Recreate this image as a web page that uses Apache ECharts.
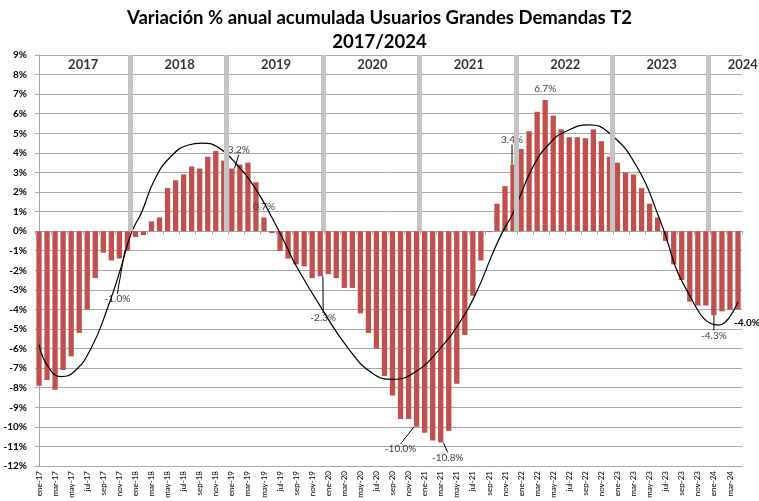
<!DOCTYPE html>
<html>
<head>
<meta charset="utf-8">
<script src="https://cdn.jsdelivr.net/npm/echarts@6/dist/echarts.min.js"></script>
<style>
  html, body { margin: 0; padding: 0; background: #fff; }
  #chart { width: 759px; height: 501px; }
</style>
</head>
<body>
<div id="chart"></div>
<script>
// meses ene-17 .. abr-24
var meses = [];
var mesNombres = ['ene', 'feb', 'mar', 'abr', 'may', 'jun', 'jul', 'ago', 'sep', 'oct', 'nov', 'dic'];
for (var a = 17; a <= 24; a++) {
	for (var m = 0; m < 12; m++) {
		if (a == 24 && m > 3) break;
		meses.push(mesNombres[m] + '-' + a);
	}
}

// variación % anual acumulada
var v2017 = [-7.9, -7.6, -8.1, -7.1, -6.4, -5.2, -4.0, -2.4, -1.1, -1.5, -1.4, -1.0];
var v2018 = [-0.3, -0.2, 0.5, 0.7, 2.2, 2.6, 2.9, 3.3, 3.2, 3.8, 4.1, 3.6];
var v2019 = [3.2, 3.4, 3.5, 2.5, 0.7, -0.1, -1.0, -1.4, -1.7, -1.8, -2.4, -2.3];
var v2020 = [-2.2, -2.4, -2.9, -2.9, -4.2, -5.2, -6.0, -7.4, -8.4, -9.6, -9.6, -10.0];
var v2021 = [-10.3, -10.7, -10.8, -10.2, -7.8, -5.3, -3.3, -1.5, -0.05, 1.4, 2.3, 3.4];
var v2022 = [4.2, 5.1, 6.1, 6.7, 5.9, 5.2, 4.8, 4.8, 4.75, 5.2, 4.6, 3.8];
var v2023 = [3.5, 3.0, 2.9, 2.2, 1.4, 0.7, -0.5, -1.7, -2.5, -3.6, -3.8, -3.8];
var v2024 = [-4.3, -4.1, -4.0, -4.0];
var valores = [].concat(v2017, v2018, v2019, v2020, v2021, v2022, v2023, v2024);

// línea de tendencia (puntos leídos: índice de mes, valor)
var tendX = [0, 1.1, 2.75, 4.4, 6.5, 8.6, 10.25, 11.5, 12.75, 14.4, 16.5, 18.6, 20.25, 22.3, 24.4, 26.9, 29, 30.9, 31.9, 35.25, 38.6, 41.5, 44, 46.9, 49.8, 52.3, 54.4, 56.5, 57.75, 59, 61.5, 63.6, 65.6, 68.4, 71, 74.4, 77.3, 80.6, 84.6, 87];
var tendY = [-5.8, -6.9, -7.43, -7.17, -5.97, -3.85, -1.8, -0.08, 0.94, 2.64, 3.85, 4.4, 4.5, 4.28, 3.5, 2.2, 0.68, -0.85, -1.7, -4.0, -6.05, -7.26, -7.57, -7.17, -6.05, -4.7, -3.16, -1.1, 0, 0.93, 3.3, 4.5, 5.1, 5.43, 5.0, 3.3, 0.56, -3.0, -4.8, -3.6];

var anios = ['2017', '2018', '2019', '2020', '2021', '2022', '2023', '2024'];
var etiquetados = [11, 24, 28, 35, 47, 50, 59, 63, 84, 87]; // meses con etiqueta

// desplazamiento de etiquetas respecto al extremo de la barra
var labelOffsets = {
	11: [-10, 48], 24: [7, -19], 28: [0, -11], 35: [3, 42], 47: [-16, 22],
	50: [7, 15], 59: [-1, -25], 63: [0, -11], 84: [0, 20], 87: [9, 13]
};
// fin de la línea guía respecto al extremo de la barra
var lineaFin = {
	11: [-9, 39], 24: [5, -11], 35: [3, 32], 47: [-12, 13], 50: [4, 7], 59: [0, -15], 84: [0, 10]
};

var fuente = 'Lato, "Liberation Sans", sans-serif';

var barData = valores.map(function(v, i) {
	var item = { value: v };
	if (etiquetados.indexOf(i) >= 0) {
		item.label = {
			show: true,
			formatter: v.toFixed(1) + '%',
			fontSize: 10,
			fontFamily: fuente,
			color: i == 87 ? '#000' : '#404040',
			fontWeight: i == 87 ? 'bold' : 'normal'
		};
		if (!lineaFin[i]) item.labelLine = { show: false };
	}
	return item;
});

// separadores de año y posición de las etiquetas de año
var bandas = [], anioPos = [];
meses.forEach(function(m, i) {
	if (m.indexOf('ene') == 0 && i > 0) {
		bandas.push([{ coord: [i - 0.65, 0] }, { coord: [i - 0.65, 9] }]);
	}
});
anios.forEach(function(a, k) {
	var x = k < anios.length - 1 ? k * 12 + 5.5 : 87.6;
	anioPos.push({ value: [x, 8.5], name: a });
});

var chart = echarts.init(document.getElementById('chart'));
chart.setOption({
	animation: false,
	title: {
		text: 'Variación % anual acumulada Usuarios Grandes Demandas T2\n2017/2024',
		left: 'center',
		top: 1,
		textStyle: {
			fontSize: 18.5,
			fontWeight: 'bold',
			fontFamily: fuente,
			color: '#000',
			lineHeight: 24
		}
	},
	grid: {
		left: 35,
		right: 17,
		top: 55,
		bottom: 35
	},
	xAxis: [{
		type: 'category',
		data: meses,
		position: 'bottom',
		axisLine: {
			onZero: false,
			lineStyle: { color: '#a6a6a6' }
		},
		axisTick: { show: false },
		axisLabel: {
			interval: 1,
			rotate: 90,
			fontSize: 8,
			margin: 5,
			color: '#000',
			fontFamily: fuente
		}
	}, {
		type: 'category',
		data: meses,
		position: 'bottom',
		axisLine: {
			onZero: true,
			lineStyle: { color: '#a6a6a6' }
		},
		axisTick: {
			show: true,
			interval: 1,
			length: 3,
			lineStyle: { color: '#a6a6a6' }
		},
		axisLabel: { show: false }
	}, {
		type: 'value',
		min: -0.5,
		max: 87.5,
		show: false
	}],
	yAxis: {
		type: 'value',
		min: -12,
		max: 9,
		interval: 1,
		axisLine: {
			show: true,
			lineStyle: { color: '#a6a6a6' }
		},
		axisTick: { show: false },
		splitLine: {
			lineStyle: { color: '#a6a6a6' }
		},
		axisLabel: {
			formatter: '{value}%',
			fontSize: 10,
			fontWeight: 'bold',
			color: '#000',
			margin: 8,
			fontFamily: fuente
		}
	},
	series: [{
		name: 'años',
		type: 'scatter',
		xAxisIndex: 2,
		symbolSize: 0,
		clip: false,
		z: 1,
		silent: true,
		data: anioPos,
		label: {
			show: true,
			position: 'inside',
			formatter: '{b}',
			fontSize: 13,
			fontWeight: 'bold',
			color: '#000',
			fontFamily: fuente
		},
		markLine: {
			silent: true,
			symbol: ['none', 'none'],
			label: { show: false },
			lineStyle: { type: 'solid', width: 5, color: '#c4c4c4' },
			data: bandas
		}
	}, {
		name: 'Variación',
		type: 'bar',
		xAxisIndex: 0,
		barCategoryGap: '34%',
		z: 2,
		itemStyle: { color: '#c0504d' },
		data: barData,
		labelLine: {
			show: true,
			lineStyle: { color: '#000', width: 1 }
		},
		labelLayout: function(p) {
			var off = labelOffsets[p.dataIndex];
			if (!off) return {};
			var v = valores[p.dataIndex];
			var cx = p.rect.x + p.rect.width / 2;
			var fin = v >= 0 ? p.rect.y : p.rect.y + p.rect.height;
			var res = {
				x: cx + off[0],
				y: fin + off[1],
				align: 'center',
				verticalAlign: 'middle'
			};
			var e = lineaFin[p.dataIndex];
			if (e) {
				res.labelLinePoints = [[cx, fin], [cx + e[0] / 2, fin + e[1] / 2], [cx + e[0], fin + e[1]]];
			}
			return res;
		}
	}, {
		name: 'Tendencia',
		type: 'line',
		xAxisIndex: 2,
		z: 3,
		smooth: 0.5,
		showSymbol: false,
		silent: true,
		lineStyle: { color: '#000', width: 1.2 },
		data: tendX.map(function(x, i) { return [x, tendY[i]]; })
	}]
});
</script>
</body>
</html>
